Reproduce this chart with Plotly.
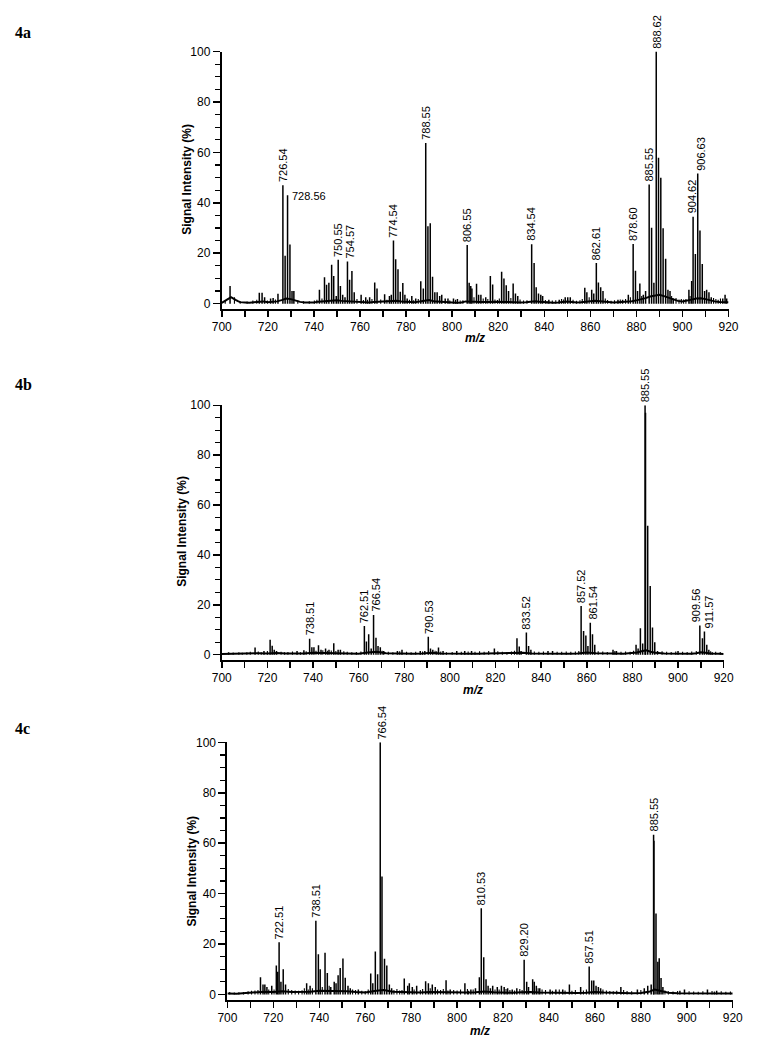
import plotly.graph_objects as go

W, H = 758, 1050

# ---------------- Panel 4a ----------------
a_mz = [703.6, 716.3, 717.5, 718.6, 721.2, 722.3, 724.4, 726.54, 727.5, 728.56,
        729.6, 730.5, 731.3, 742.4, 744.6, 745.5, 746.5, 747.7, 748.6, 749.7,
        750.55, 751.5, 752.5, 753.5, 754.57, 755.5, 756.5, 757.5, 760.5, 762.5,
        764.2, 766.4, 767.4, 770.7, 772.8, 773.6, 774.54, 775.5, 776.5, 777.5,
        778.6, 779.5, 780.5, 782.5, 784.2, 786.4, 787.5, 788.55, 789.5, 790.5,
        791.5, 792.5, 793.5, 794.6, 795.5, 797.0, 798.2, 800.6, 802.3, 806.55,
        807.4, 808.1, 808.6, 810.6, 811.5, 812.5, 814.6, 816.6, 817.6, 821.5,
        822.5, 823.5, 824.5, 826.5, 827.5, 828.5, 834.54, 835.6, 836.5, 837.5,
        838.5, 839.3, 842.0, 846.5, 849.1, 850.2, 851.3, 857.6, 858.5, 860.6,
        861.5, 862.61, 863.5, 864.5, 865.5, 872.0, 874.0, 876.5, 878.60, 879.6,
        880.5, 881.5, 883.0, 884.0, 885.55, 886.6, 887.6, 888.62, 889.6, 890.6,
        891.6, 892.7, 893.7, 894.6, 896.0, 902.8, 904.0, 904.62, 905.6, 906.63,
        907.6, 908.6, 909.6, 910.5, 911.5, 912.5, 917.5, 918.5, 919.2]
a_int = [7, 4.3, 4.3, 2.5, 2, 2.2, 3.9, 47, 19, 43,
         23.5, 5, 5, 5.5, 10.5, 7.5, 8.3, 15.4, 11, 3,
         17.4, 7, 3.5, 2.5, 16.7, 9.5, 13, 4.5, 3.5, 2.5,
         2.5, 8.4, 6, 3.7, 3, 3.5, 25.1, 17.6, 13.6, 4.7,
         8.2, 3.5, 2, 3, 2, 8.9, 6, 63.7, 30.7, 31.9,
         10.7, 4.5, 4.5, 3, 3.5, 2, 2, 2, 1.8, 23.3,
         8.3, 7, 6, 7.9, 3.5, 3.5, 2.5, 11, 7.6, 12.7,
         10, 7.3, 5, 8, 4, 3, 23.6, 16.1, 6.5, 4,
         3.5, 3, 1.5, 1.5, 2.5, 2.5, 2.5, 6.3, 4.5, 5.5,
         4, 16.1, 8.4, 6.5, 5, 1.5, 1.5, 3.5, 23.7, 13.1,
         5, 8, 3.5, 5, 47.3, 30.1, 8.3, 100, 57.9, 50,
         29.9, 17.8, 5.5, 5, 2, 5.5, 9, 34.5, 19.7, 51.6,
         29, 15.7, 5, 5.5, 4.5, 2.5, 2, 3.5, 2]
a_noise_mz = [701.5, 705.5, 708.0, 711.0, 713.5, 715.2, 719.8, 723.3, 733.0, 735.5,
              738.0, 740.2, 741.3, 743.5, 758.7, 761.5, 763.3, 765.2, 769.0, 771.7,
              781.5, 783.3, 785.3, 799.0, 801.5, 803.5, 804.7, 809.5, 813.5, 815.5,
              818.6, 819.7, 820.5, 825.5, 829.5, 831.0, 832.5, 840.5, 841.2, 843.5,
              845.0, 847.5, 848.3, 852.5, 854.0, 855.5, 856.5, 859.5, 866.5, 867.5,
              869.0, 870.5, 873.0, 875.3, 877.4, 882.3, 895.3, 897.2, 898.5, 899.5,
              900.5, 901.5, 903.3, 913.5, 914.5, 915.5, 916.5]
a_noise_int = [1.2, 2.5, 1.0, 0.9, 1.2, 1.5, 1.2, 1.6, 1.3, 1.0,
               1.0, 1.2, 1.5, 2.0, 1.8, 1.4, 1.5, 1.8, 1.6, 1.5,
               1.5, 1.3, 1.8, 1.2, 1.5, 1.2, 1.3, 2.5, 2.0, 1.8,
               1.6, 1.4, 2.0, 2.2, 1.6, 1.2, 1.3, 1.4, 1.0, 1.2,
               1.3, 1.8, 1.6, 1.5, 1.1, 1.3, 1.8, 2.5, 2.0, 1.4,
               1.1, 1.3, 1.6, 1.8, 2.5, 3.0, 3.0, 2.2, 1.6, 1.8,
               1.6, 1.8, 3.0, 2.2, 1.8, 1.5, 2.0]
a_base_mz = [700, 701, 702, 703, 704, 705, 706, 707, 708,
             710, 712, 714, 716, 718, 720, 722, 724, 726, 728,
             730, 732, 734, 736, 738, 740, 742, 744, 746, 748,
             750, 752, 754, 756, 758, 760, 762, 764, 766, 768,
             770, 772, 774, 776, 778, 780, 782, 784, 786, 788,
             790, 792, 794, 796, 798, 800, 802, 804, 806, 808,
             810, 812, 814, 816, 818, 820, 822, 824, 826, 828,
             830, 832, 834, 836, 838, 840, 842, 844, 846, 848,
             850, 852, 854, 856, 858, 860, 862, 864, 866, 868,
             870, 872, 874, 876, 878, 880, 882, 884, 886, 888,
             890, 892, 894, 896, 898, 900, 902, 904, 906, 908,
             910, 912, 914, 916, 918, 920]
a_base_int = [0.3, 0.8, 1.2, 2.0, 2.6, 2.2, 1.5, 1.0, 0.6,
              0.5, 0.4, 0.6, 0.8, 0.9, 0.6, 0.7, 0.9, 1.4, 2.0,
              1.8, 1.2, 0.7, 0.5, 0.4, 0.5, 0.8, 1.0, 1.1, 1.2,
              1.3, 1.1, 1.0, 0.9, 0.8, 0.6, 0.6, 0.5, 0.7, 0.8,
              0.7, 0.8, 1.0, 1.1, 0.9, 0.7, 0.6, 0.6, 0.9, 1.3,
              1.4, 1.0, 0.8, 0.6, 0.5, 0.5, 0.4, 0.5, 0.9, 1.0,
              0.8, 0.7, 0.6, 0.7, 0.8, 0.7, 0.9, 0.8, 0.7, 0.6,
              0.5, 0.6, 0.9, 1.0, 0.8, 0.6, 0.5, 0.4, 0.5, 0.7,
              0.9, 0.7, 0.5, 0.6, 0.9, 1.0, 1.1, 1.0, 0.7, 0.5,
              0.5, 0.6, 0.7, 0.8, 1.0, 1.3, 1.6, 2.2, 2.8, 3.3,
              3.5, 3.0, 2.3, 1.6, 1.1, 0.9, 1.1, 1.6, 2.0, 2.1,
              1.8, 1.3, 0.9, 0.7, 0.8, 0.6]
a_labels = [726.54, 750.55, 754.57, 774.54, 788.55, 806.55, 834.54, 862.61,
            878.60, 885.55, 888.62, 904.62, 906.63]
a_hlabels = [728.56]

# ---------------- Panel 4b ----------------
b_mz = [703.0, 714.6, 718.5, 721.2, 722.1, 723.0, 724.0, 733.0, 736.0, 738.51,
        739.5, 740.4, 742.4, 743.5, 745.5, 747.0, 749.1, 751.0, 752.0, 762.51,
        763.4, 764.4, 765.5, 766.54, 767.6, 768.5, 769.5, 771.0, 777.0, 779.0,
        787.0, 789.0, 790.53, 791.5, 792.5, 795.0, 797.0, 803.0, 806.5, 809.5,
        819.5, 829.4, 830.4, 831.2, 833.52, 834.5, 835.5, 843.0, 845.0, 857.52,
        858.6, 859.6, 860.5, 861.54, 862.5, 863.5, 871.5, 873.0, 881.6, 882.5,
        883.5, 884.5, 885.55, 886.7, 887.8, 888.8, 889.8, 891.0, 900.0, 909.56,
        910.7, 911.57, 912.6, 913.5, 915.0, 885.75]
b_int = [1, 2.9, 1.5, 6, 3.6, 2, 1.5, 1.5, 1.8, 6.4,
         3, 3, 3.8, 2, 2.5, 2, 4.6, 2, 2, 11.5,
         5.3, 8.2, 2.5, 15.9, 6.8, 3.5, 3, 1.5, 1.5, 2,
         1.5, 1.5, 7.2, 2.5, 2, 2.9, 1.5, 1.5, 1.5, 1.5,
         2.5, 6.6, 3.3, 1.5, 8.9, 3.5, 2, 1.5, 1.5, 19.5,
         9.5, 7.7, 3.5, 12.8, 8.2, 4, 2, 1.5, 4, 2.5,
         10.6, 4.5, 100, 51.7, 27.5, 10.9, 5, 1.5, 1.5, 11.7,
         6.6, 9.3, 4, 2, 1, 97]
b_noise_mz = [705.0, 707.5, 709.0, 711.0, 712.5, 716.0, 717.3, 720.0, 726.0, 727.5,
              729.0, 731.0, 734.5, 737.0, 741.3, 744.3, 746.3, 748.0, 750.0, 753.5,
              755.0, 757.0, 759.0, 761.0, 770.3, 773.0, 775.0, 778.0, 781.0, 783.0,
              785.0, 788.0, 793.5, 794.2, 796.0, 798.5, 801.0, 805.0, 808.0, 811.0,
              813.0, 815.0, 817.0, 821.0, 823.0, 825.0, 827.0, 828.3, 837.0, 839.0,
              841.0, 847.0, 849.0, 851.0, 853.0, 855.0, 856.5, 865.0, 867.0, 869.0,
              872.3, 875.0, 877.0, 879.0, 880.5, 893.0, 895.0, 897.0, 899.0, 902.0,
              904.0, 906.0, 908.0, 914.3, 916.5, 918.5]
b_noise_int = [0.9, 1.0, 0.8, 1.0, 1.2, 1.3, 1.0, 1.5, 1.2, 1.0,
               1.1, 1.3, 1.0, 1.4, 1.6, 1.8, 1.6, 1.7, 1.5, 1.4,
               1.2, 1.0, 1.1, 1.3, 1.6, 1.2, 1.0, 1.4, 1.2, 1.0,
               1.2, 1.3, 1.6, 1.4, 1.3, 1.0, 1.1, 1.2, 1.3, 1.2,
               1.4, 1.2, 1.5, 1.4, 1.2, 1.1, 1.3, 1.6, 1.3, 1.2,
               1.3, 1.2, 1.2, 1.3, 1.2, 1.3, 1.5, 1.4, 1.3, 1.1,
               1.5, 1.2, 1.3, 1.2, 1.6, 1.4, 1.2, 1.1, 1.3, 1.2,
               1.1, 1.3, 1.5, 1.4, 1.2, 1.1]
b_base_mz = [700, 704, 708, 712, 716, 720, 724, 728, 732, 736,
             740, 744, 748, 752, 756, 760, 764, 768, 772, 776,
             780, 784, 788, 792, 796, 800, 804, 808, 812, 816,
             820, 824, 828, 832, 836, 840, 844, 848, 852, 856,
             860, 864, 868, 872, 876, 880, 882, 884, 886, 888,
             890, 894, 898, 902, 906, 908, 910, 912, 914, 918, 920]
b_base_int = [0.3, 0.4, 0.3, 0.4, 0.6, 0.5, 0.7, 0.5, 0.4, 0.5,
              0.8, 0.7, 0.9, 0.7, 0.5, 0.4, 0.9, 1.2, 0.6, 0.5,
              0.6, 0.4, 0.5, 0.8, 0.5, 0.4, 0.4, 0.5, 0.4, 0.5,
              0.6, 0.4, 0.7, 0.8, 0.5, 0.4, 0.4, 0.5, 0.4, 0.5,
              0.9, 0.6, 0.4, 0.5, 0.4, 0.6, 0.9, 1.4, 1.8, 1.2,
              0.8, 0.5, 0.4, 0.5, 0.4, 0.6, 1.0, 0.8, 0.5, 0.4, 0.3]
b_labels = [738.51, 762.51, 766.54, 790.53, 833.52, 857.52, 861.54, 885.55,
            909.56, 911.57]

# ---------------- Panel 4c ----------------
c_mz = [714.4, 715.5, 716.3, 717.2, 719.3, 721.3, 721.9, 722.51, 723.3, 724.3,
        725.3, 734.5, 736.0, 738.51, 739.6, 740.4, 742.5, 743.5, 745.0, 746.5,
        747.3, 748.2, 749.1, 750.3, 751.3, 752.5, 753.5, 757.0, 762.4, 763.3,
        764.4, 765.4, 766.54, 767.3, 768.4, 769.4, 770.5, 771.5, 777.0, 778.5,
        779.2, 780.5, 782.4, 786.3, 787.5, 789.2, 790.5, 795.2, 797.0, 803.4,
        806.0, 808.0, 809.7, 810.53, 811.6, 812.6, 813.5, 814.5, 815.5, 817.5,
        819.3, 820.5, 822.0, 824.0, 826.0, 829.20, 830.3, 831.1, 832.9, 833.6,
        834.5, 836.0, 840.5, 843.0, 846.0, 848.9, 853.8, 857.51, 858.6, 859.5,
        860.5, 861.5, 862.5, 871.3, 878.5, 881.5, 883.0, 884.5, 885.55, 886.6,
        887.4, 888.0, 888.8, 889.6, 897.0, 899.0, 909.0, 913.0, 885.7]
c_int = [6.8, 4, 4, 3, 3.5, 11.5, 9, 20.7, 5, 10,
         4, 4.5, 3.5, 29.2, 16, 10, 16.5, 8.5, 3, 5,
         4.5, 7.6, 10.5, 14.3, 6.6, 3.5, 2.5, 2, 8.3, 4.5,
         17, 8, 100, 46.8, 14.2, 11.5, 4, 2.5, 6.3, 3.5,
         4.5, 3, 3.5, 5.2, 4.5, 4, 3, 5.6, 2, 4.5,
         2, 2.5, 6.8, 34.2, 14.8, 6, 3.5, 2.5, 3.5, 3,
         3.5, 3, 2.5, 2, 2.5, 13.8, 5, 3, 6, 5,
         3.5, 2.5, 2, 2, 2, 4, 3, 11.1, 5.5, 5.5,
         3.5, 3, 2.5, 3, 2, 2.5, 3.5, 4, 63.3, 32.1,
         13, 14.4, 6.5, 3, 1.5, 2, 2, 1.5, 61]
c_noise_mz = [701.0, 703.0, 705.0, 707.0, 709.0, 710.5, 712.0, 713.3, 718.0, 720.3,
              726.5, 728.0, 729.5, 731.0, 732.5, 733.5, 735.2, 737.0, 741.3, 744.3,
              754.5, 755.8, 758.5, 760.0, 761.3, 772.5, 773.8, 775.0, 776.0, 781.3,
              784.0, 785.0, 788.3, 791.5, 792.8, 794.0, 796.0, 798.5, 800.0, 801.5,
              804.5, 805.0, 807.0, 816.5, 818.3, 821.3, 823.0, 825.0, 827.3, 828.3,
              835.3, 837.0, 838.5, 841.5, 844.5, 847.0, 850.0, 851.5, 855.0, 856.3,
              863.5, 865.0, 866.5, 868.0, 869.5, 872.5, 874.0, 876.0, 880.0, 890.5,
              892.0, 894.0, 896.0, 901.0, 903.0, 905.0, 907.0, 911.0, 912.0, 915.0,
              917.0, 919.0]
c_noise_int = [1.0, 0.8, 0.9, 1.0, 1.3, 1.5, 1.6, 1.8, 2.0, 2.0,
               2.2, 1.8, 1.6, 1.5, 1.7, 2.5, 2.0, 2.5, 3.0, 3.5,
               2.0, 1.8, 1.5, 1.4, 2.0, 1.8, 2.2, 1.6, 1.8, 2.0,
               1.8, 2.2, 2.5, 2.0, 1.8, 2.2, 1.6, 1.8, 1.6, 2.0,
               2.2, 1.5, 2.0, 2.0, 2.0, 2.2, 1.8, 1.6, 2.2, 1.8,
               2.5, 2.0, 1.8, 1.5, 2.0, 1.6, 1.5, 1.8, 1.6, 2.0,
               2.0, 1.6, 1.4, 1.3, 1.5, 1.8, 1.4, 1.3, 1.8, 1.6,
               1.3, 1.2, 1.4, 1.3, 1.2, 1.1, 1.3, 1.4, 1.2, 1.3,
               1.1, 1.2]
c_base_mz = [700, 704, 708, 712, 716, 720, 724, 728, 732, 736,
             740, 744, 748, 752, 756, 760, 764, 768, 772, 776,
             780, 784, 788, 792, 796, 800, 804, 808, 812, 816,
             820, 824, 828, 832, 836, 840, 844, 848, 852, 856,
             860, 864, 868, 872, 876, 880, 884, 886, 888, 892,
             896, 900, 904, 908, 912, 916, 920]
c_base_int = [0.4, 0.3, 0.6, 0.9, 1.1, 1.0, 1.3, 1.0, 0.9, 1.1,
              1.5, 1.4, 1.6, 1.3, 1.0, 0.8, 1.4, 1.8, 1.1, 0.9,
              1.0, 0.8, 1.0, 0.9, 0.8, 0.7, 0.8, 0.9, 1.2, 0.9,
              0.8, 0.7, 0.9, 1.0, 0.8, 0.7, 0.6, 0.7, 0.6, 0.7,
              1.0, 0.8, 0.6, 0.7, 0.5, 0.6, 1.2, 2.0, 1.5, 0.7,
              0.5, 0.5, 0.6, 0.5, 0.6, 0.4, 0.4]
c_labels = [722.51, 738.51, 766.54, 810.53, 829.20, 857.51, 885.55]

panel_names = ["4a", "4b", "4c"]
x_tick_labels = ["700", "720", "740", "760", "780", "800", "820", "840", "860", "880", "900", "920"]
y_tick_labels = ["0", "20", "40", "60", "80", "100"]

# ---------------- layout geometry (pixels) ----------------
# (left px, right px, top px for 100, bottom px for -2)
geom = [(217.5, 738, 45, 304.3), (217.5, 733, 401.7, 658.3), (223.3, 742.3, 741.7, 1001.1)]
ytitle_pos = [(181, 174), (177, 529), (186, 872)]
xtitle_y = [334, 689, 1033]
panel_label_y = [26, 381, 728]
# small horizontal nudges (px) so that crowded labels sit side by side
label_nudge = {754.57: 2.5, 904.62: -1.5, 906.63: 2.5, 766.54: 2, 861.54: 2.5,
               909.56: -3, 911.57: 5}

FONT = "Liberation Sans, Arial, Helvetica, sans-serif"

def stick_xy(mz, inten):
    xs, ys = [], []
    for m, h in zip(mz, inten):
        xs.extend([m, m, None])
        ys.extend([0, h, None])
    return xs, ys

fig = go.Figure()
panels = [
    (a_mz, a_int, a_noise_mz, a_noise_int, a_base_mz, a_base_int, a_labels),
    (b_mz, b_int, b_noise_mz, b_noise_int, b_base_mz, b_base_int, b_labels),
    (c_mz, c_int, c_noise_mz, c_noise_int, c_base_mz, c_base_int, c_labels),
]
annotations = []
layout_axes = {}
for i, (mz, inten, nmz, nint, bmz, bint, labs) in enumerate(panels):
    k = "" if i == 0 else str(i + 1)
    xr, yr = "x" + k, "y" + k
    fig.add_trace(go.Scatter(x=bmz, y=bint, mode="lines", xaxis=xr, yaxis=yr,
                             line=dict(color="black", width=2), hoverinfo="skip",
                             showlegend=False))
    nx, ny = stick_xy(nmz, nint)
    fig.add_trace(go.Scatter(x=nx, y=ny, mode="lines", xaxis=xr, yaxis=yr,
                             line=dict(color="black", width=1.1), hoverinfo="skip",
                             showlegend=False))
    px, py = stick_xy(mz, inten)
    fig.add_trace(go.Scatter(x=px, y=py, mode="lines", xaxis=xr, yaxis=yr,
                             line=dict(color="black", width=1.5), hoverinfo="skip",
                             showlegend=False))
    L, R, T, B = geom[i]
    layout_axes["xaxis" + k] = dict(
        domain=[L / W, R / W], anchor=yr, range=[700, 920],
        tickmode="array", tickvals=[int(t) for t in x_tick_labels], ticktext=x_tick_labels,
        ticks="outside", ticklen=6, tickwidth=1.5, tickcolor="black",
        minor=dict(dtick=10, tick0=700, ticks="outside", ticklen=6, tickwidth=1.5,
                   tickcolor="black", showgrid=False),
        showline=True, linewidth=2, linecolor="black", showgrid=False, zeroline=False,
        tickfont=dict(family=FONT, size=12, color="black"), fixedrange=True)
    layout_axes["yaxis" + k] = dict(
        domain=[1 - B / H, 1 - T / H], anchor=xr, range=[-2, 100],
        tickmode="array", tickvals=[int(t) for t in y_tick_labels], ticktext=y_tick_labels,
        ticks="outside", ticklen=7, tickwidth=1.5, tickcolor="black",
        minor=dict(dtick=5, tick0=0, ticks="outside", ticklen=5, tickwidth=1.2,
                   tickcolor="black", showgrid=False),
        showline=True, linewidth=2, linecolor="black", showgrid=False, zeroline=False,
        tickfont=dict(family=FONT, size=12, color="black"), fixedrange=True)

    lookup = dict(zip(mz, inten))
    for m in labs:
        annotations.append(dict(xref=xr, yref=yr, x=m, y=lookup[m], text=f"{m:.2f}",
                                textangle=-90, showarrow=False, xanchor="center",
                                yanchor="bottom", yshift=1,
                                xshift=label_nudge.get(m, 0),
                                font=dict(family=FONT, size=11, color="black")))
    # axis titles & panel label
    tx, ty = ytitle_pos[i]
    annotations.append(dict(xref="paper", yref="paper", x=tx / W, y=1 - ty / H,
                            text="<b>Signal Intensity (%)</b>", textangle=-90,
                            showarrow=False, xanchor="center", yanchor="middle",
                            font=dict(family=FONT, size=12, color="black")))
    annotations.append(dict(xref="paper", yref="paper", x=(L + R) / 2 / W,
                            y=1 - xtitle_y[i] / H, text="<b><i>m/z</i></b>",
                            showarrow=False, xanchor="center", yanchor="middle",
                            font=dict(family=FONT, size=12, color="black")))
    annotations.append(dict(xref="paper", yref="paper", x=3 / W, y=1 - panel_label_y[i] / H,
                            text=f"<b>{panel_names[i]}</b>", showarrow=False,
                            xanchor="left", yanchor="middle",
                            font=dict(family="Liberation Serif, Times New Roman, serif",
                                      size=16, color="black")))

# horizontal label for 728.56
a_lookup = dict(zip(a_mz, a_int))
for m in a_hlabels:
    annotations.append(dict(xref="x", yref="y", x=m, y=a_lookup[m], text=f"{m:.2f}",
                            showarrow=False, xanchor="left", yanchor="middle",
                            xshift=2, yshift=-1,
                            font=dict(family=FONT, size=11, color="black")))

fig.update_layout(width=W, height=H, margin=dict(l=0, r=0, t=0, b=0),
                  paper_bgcolor="white", plot_bgcolor="white", showlegend=False,
                  hovermode=False, annotations=annotations, **layout_axes)
fig.write_html("out.html", config={"displayModeBar": False, "staticPlot": True},
               post_script="document.body.style.margin='0px';document.body.style.overflow='hidden';")
